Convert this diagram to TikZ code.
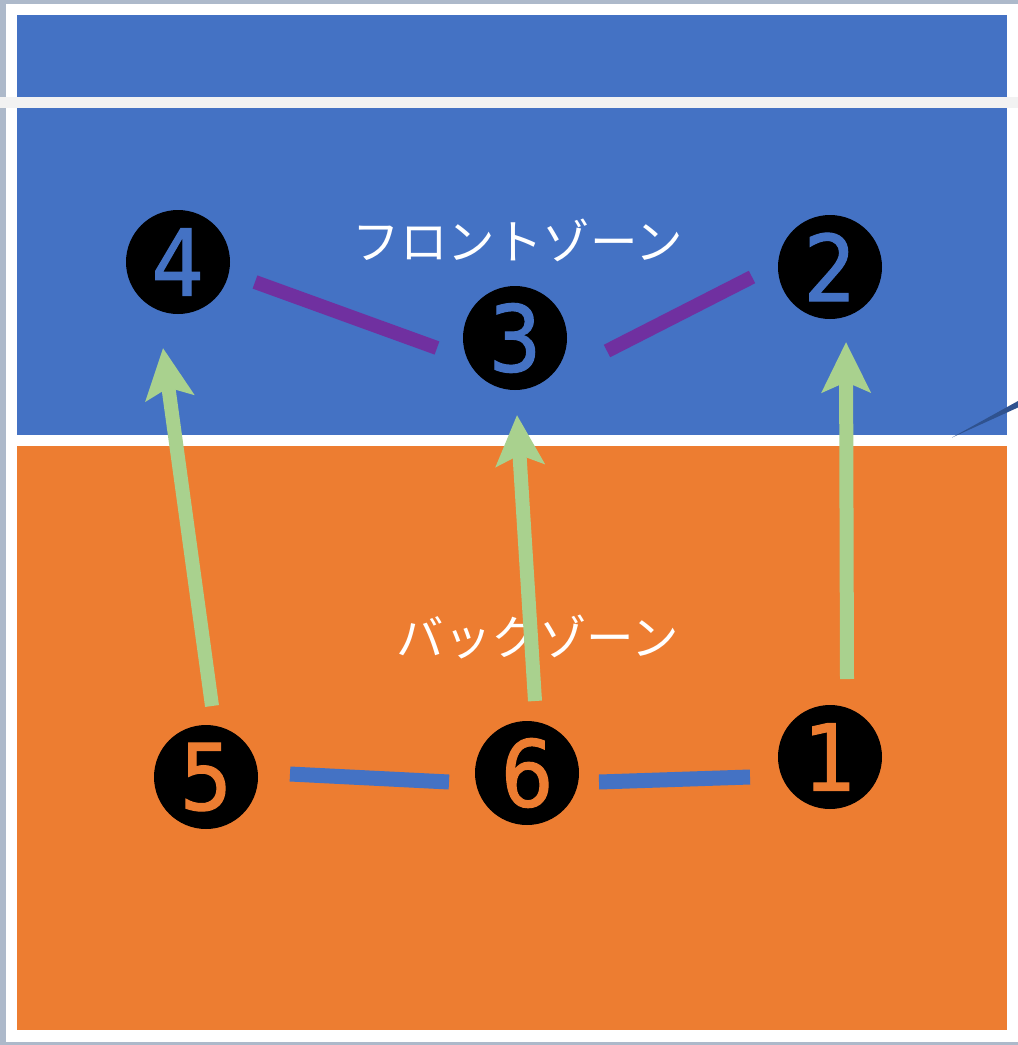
\documentclass[tikz,border=0pt]{standalone}
\usepackage{fontspec}
\usetikzlibrary{arrows.meta}
\newfontfamily\jpfont{Noto Sans CJK JP}
\newfontfamily\digitfont[FakeBold=1.2]{DejaVu Sans Condensed}
\definecolor{zoneblue}{HTML}{4472C4}
\definecolor{zoneorange}{HTML}{ED7D31}
\definecolor{movegreen}{HTML}{A9D18E}
\definecolor{linkpurple}{HTML}{7030A0}
\definecolor{framegray}{HTML}{ADB9CA}
\definecolor{netgray}{HTML}{F2F2F2}
\definecolor{pointerblue}{HTML}{2F528F}
\tikzset{
  player/.style={circle, fill=black, minimum size=104pt, inner sep=0pt,
    font=\digitfont\fontsize{92}{92}\selectfont},
  zonelabel/.style={text=white, inner sep=0pt, font=\jpfont\fontsize{47.5}{47.5}\selectfont},
  rotation/.style={draw=movegreen, line width=14pt,
    -{Stealth[length=50pt, width=48pt, inset=10pt]}},
  frontlink/.style={draw=linkpurple, line width=14pt},
  backlink/.style={draw=zoneblue, line width=15pt}
}
\begin{document}
\begin{tikzpicture}[x=1pt, y=-1pt]
  \useasboundingbox (0,0) rectangle (1018,1045);
  % frame
  \fill[framegray] (0,0) rectangle (1018,1045);
  \fill[white] (6,4) rectangle (1018,1042);
  % zones
  \fill[zoneblue] (17,15) rectangle (1007,435);
  \fill[zoneorange] (17,446) rectangle (1007,1030);
  % net
  \fill[netgray] (0,97) rectangle (1018,108);
  % pointer
  \fill[pointerblue] (952,437.5) -- (1018,401) -- (1018,407.5) -- cycle;
  % labels
  \node[zonelabel] (front) at (518,240) {フロントゾーン};
  \node[zonelabel] (back) at (538,637) {バックゾーン};
  % players
  \node[player, text=zoneblue] (p4) at (178,262) {4};
  \node[player, text=zoneblue] (p3) at (515,338) {3};
  \node[player, text=zoneblue] (p2) at (830,267) {2};
  \node[player, text=zoneorange] (p5) at (206,777) {5};
  \node[player, text=zoneorange] (p6) at (527,773) {6};
  \node[player, text=zoneorange] (p1) at (830,757) {1};
  % connector end points
  \coordinate (l43a) at (255,282);
  \coordinate (l43b) at (437,348);
  \coordinate (l32a) at (607,351);
  \coordinate (l32b) at (752,277);
  \coordinate (l56a) at (290,774);
  \coordinate (l56b) at (449,782);
  \coordinate (l61a) at (599,782);
  \coordinate (l61b) at (750,777);
  \coordinate (a54s) at (212,706);
  \coordinate (a54e) at (163,348);
  \coordinate (a63s) at (535,701);
  \coordinate (a63e) at (517,415);
  \coordinate (a12s) at (847,679);
  \coordinate (a12e) at (846,342);
  % links
  \draw[frontlink] (l43a) -- (l43b);
  \draw[frontlink] (l32a) -- (l32b);
  \draw[backlink] (l56a) -- (l56b);
  \draw[backlink] (l61a) -- (l61b);
  % rotation arrows
  \draw[rotation] (a54s) -- (a54e);
  \draw[rotation] (a63s) -- (a63e);
  \draw[rotation] (a12s) -- (a12e);
\end{tikzpicture}
\end{document}
